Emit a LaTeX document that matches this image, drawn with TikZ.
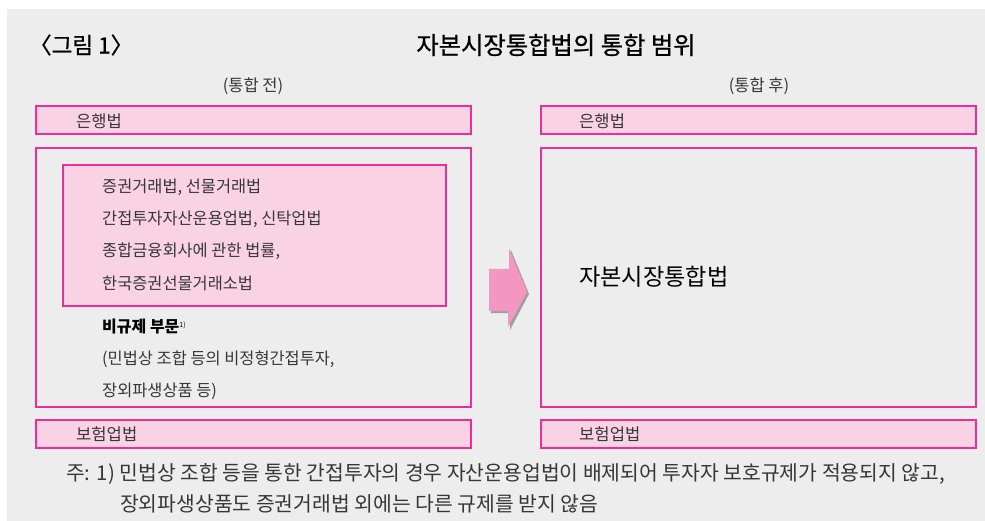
\documentclass[tikz,border=0pt]{standalone}
\usepackage{fontspec}
\setmainfont{Noto Sans CJK KR}
\newfontfamily\kr{Noto Sans CJK KR}
\newfontfamily\krmed[FakeBold=0.8]{Noto Sans CJK KR}
\definecolor{bggray}{RGB}{237,237,237}
\definecolor{pinkline}{RGB}{238,45,155}
\definecolor{pinkfill}{RGB}{249,211,228}
\definecolor{arrowpink}{RGB}{243,150,193}
\definecolor{txtgray}{RGB}{55,55,55}
\tikzset{
  lawbox/.style={draw=pinkline, line width=1.3pt, fill=pinkfill},
  bigbox/.style={draw=pinkline, line width=1.3pt},
  lbl/.style={anchor=west, inner sep=0pt, text=txtgray, font=\kr\fontsize{16.4}{19}\selectfont},
  boxlbl/.style={anchor=west, inner sep=0pt, text=txtgray, font=\kr\fontsize{16.6}{19}\selectfont},
  head/.style={inner sep=0pt, text=txtgray, font=\kr\fontsize{16.5}{19}\selectfont},
  foot/.style={anchor=west, inner sep=0pt, text=txtgray, font=\kr\fontsize{20.4}{24}\selectfont},
}
\begin{document}
\begin{tikzpicture}[x=1pt,y=-1pt]
\useasboundingbox (0,0) rectangle (985,521);
\fill[bggray] (7,9) rectangle (985,521);
% title
\node[anchor=west, inner sep=0pt, font=\krmed\fontsize{22.5}{26}\selectfont] (fig) at (29,45) {〈그림 1〉};
\node[inner sep=0pt, font=\krmed\fontsize{24.3}{28}\selectfont] (title) at (556,45) {자본시장통합법의 통합 범위};
\node[head] (before) at (253,86) {(통합 전)};
\node[head] (after) at (759,86) {(통합 후)};
% left column
\draw[lawbox] (36,106) rectangle (471,134);
\node[boxlbl] (bankL) at (76,121) {은행법};
\draw[bigbox] (36,148) rectangle (471,407);
\draw[lawbox] (63,165) rectangle (446,306);
\node[lbl] (l1) at (102,187) {증권거래법, 선물거래법};
\node[lbl] (l2) at (102,219) {간접투자자산운용업법, 신탁업법};
\node[lbl] (l3) at (102,251) {종합금융회사에 관한 법률,};
\node[lbl] (l4) at (102,283) {한국증권선물거래소법};
\node[lbl, text=black, font=\kr\bfseries\fontsize{16}{19}\selectfont] (nonreg) at (102,327) {비규제 부문\raisebox{0.6ex}{\fontsize{7}{8}\selectfont\mdseries 1)}};
\node[lbl] (n1) at (102,359) {(민법상 조합 등의 비정형간접투자,};
\node[lbl] (n2) at (102,391) {장외파생상품 등)};
\draw[lawbox] (36,420) rectangle (471,448);
\node[boxlbl] (insL) at (76,434) {보험업법};
% arrow
\fill[gray!75] (491,271) -- (511,271) -- (511,250) -- (529,294) -- (510,330) -- (510,313) -- (491,313) -- cycle;
\fill[arrowpink] (489,269) -- (509,269) -- (509,248) -- (527,292) -- (508,327) -- (508,311) -- (489,311) -- cycle;
% right column
\draw[lawbox] (541,106) rectangle (976,134);
\node[boxlbl] (bankR) at (579,121) {은행법};
\draw[bigbox] (541,148) rectangle (976,407);
\node[anchor=west, inner sep=0pt, text=black, font=\kr\fontsize{23.2}{27}\selectfont] (cap) at (579,277) {자본시장통합법};
\draw[lawbox] (541,420) rectangle (976,448);
\node[boxlbl] (insR) at (579,434) {보험업법};
% footnote
\node[foot] (fn1) at (66,474) {주: 1) 민법상 조합 등을 통한 간접투자의 경우 자산운용업법이 배제되어 투자자 보호규제가 적용되지 않고,};
\node[foot] (fn2) at (120,504) {장외파생상품도 증권거래법 외에는 다른 규제를 받지 않음};
\end{tikzpicture}
\end{document}
